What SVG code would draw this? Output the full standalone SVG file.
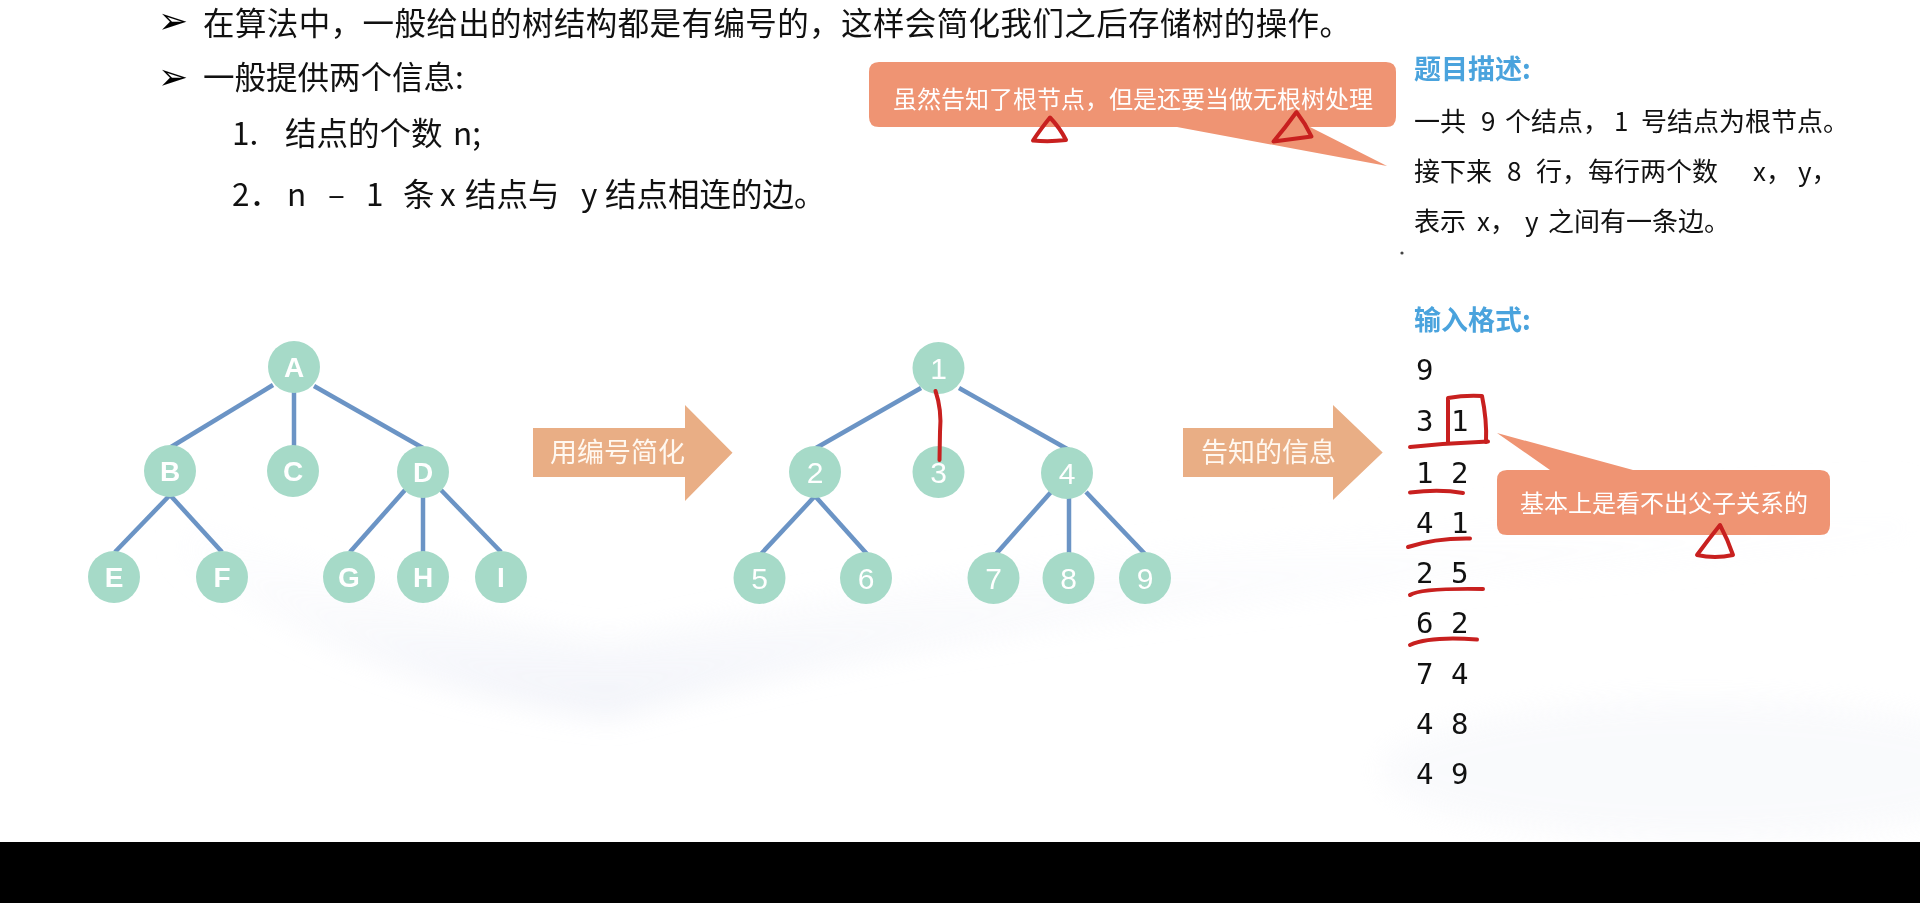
<svg xmlns="http://www.w3.org/2000/svg" width="1920" height="903" viewBox="0 0 1920 903">
<defs>
<style>
.txt{font-family:"Microsoft YaHei","Noto Sans CJK SC","Noto Sans",sans-serif;fill:#111}
.main{font-size:31.5px}
.side{font-size:26px}
.head{font-size:27px;font-weight:bold;fill:#4aa3dd}
.mono{font-family:"DejaVu Sans Mono","Liberation Mono",monospace;font-size:29px;fill:#111}
.bullet{font-family:"DejaVu Sans",sans-serif;font-size:36px;fill:#000}
.node circle{fill:#a6dac8}
.lbl{font-family:"Liberation Sans","Noto Sans",sans-serif;font-size:28px;font-weight:bold;fill:#fff;text-anchor:middle}
.num{font-family:"Liberation Sans","Noto Sans",sans-serif;font-size:30px;fill:#fff;text-anchor:middle}
.edge{stroke:#6b94c5;stroke-width:4.5;stroke-linecap:butt;fill:none}
.red{stroke:#c8201f;stroke-width:4;fill:none;stroke-linecap:round;stroke-linejoin:round}
.callout{fill:#ef9473}
.ctext{font-family:"Noto Sans CJK SC","Noto Sans",sans-serif;font-size:24px;fill:#fff}
.arrow{fill:#e9ae85}
.atext{font-family:"Noto Sans CJK SC","Noto Sans",sans-serif;font-size:27px;fill:#fff8f0}
</style>
<linearGradient id="sw" x1="0" y1="1" x2="0" y2="0">
<stop offset="0" stop-color="#e6e9f4" stop-opacity="0.8"/>
<stop offset="1" stop-color="#ffffff" stop-opacity="0"/>
</linearGradient>
<filter id="bl" x="-20%" y="-50%" width="140%" height="200%"><feGaussianBlur stdDeviation="14"/></filter>
</defs>
<rect x="0" y="0" width="1920" height="903" fill="#ffffff"/>
<g id="background" opacity="0.7">
<path d="M 180 560 Q 360 690 612 718 Q 860 650 1180 612 Q 1500 575 1920 545 L 1920 470 Q 1500 505 1180 545 Q 860 585 612 640 Q 400 610 180 500 Z" fill="url(#sw)" filter="url(#bl)"/>
<ellipse cx="1700" cy="770" rx="320" ry="70" fill="#eff1f7" filter="url(#bl)" opacity="0.5"/>
</g>
<rect x="0" y="842" width="1920" height="61" fill="#000"/>

<g id="intro">
<text class="bullet" x="158" y="33">➢</text>
<text class="txt main" x="203" y="35" letter-spacing="0.4">在算法中，一般给出的树结构都是有编号的，这样会简化我们之后存储树的操作。</text>
<text class="bullet" x="158" y="89">➢</text>
<text class="txt main" x="203" y="89">一般提供两个信息:</text>
<text class="txt main" y="145"><tspan x="232">1.</tspan><tspan x="285">结点的个数</tspan><tspan x="453">n;</tspan></text>
<text class="txt main" y="206"><tspan x="232">2．</tspan><tspan x="287">n</tspan><tspan x="328">–</tspan><tspan x="366">1</tspan><tspan x="403">条</tspan><tspan x="440">x</tspan><tspan x="465">结点与</tspan><tspan x="581">y</tspan><tspan x="605">结点相连的边。</tspan></text>
</g>

<g id="callout-root">
<path class="callout" d="M879,62 H1386 Q1396,62 1396,72 V117 Q1396,127 1386,127 H1310 L1387,166 L1177,127 H879 Q869,127 869,117 V72 Q869,62 879,62 Z"/>
<text class="ctext" x="893" y="108">虽然告知了根节点，但是还要当做无根树处理</text>
</g>

<g id="desc">
<text class="txt head" x="1414" y="79">题目描述:</text>
<text class="txt side" y="131"><tspan x="1414">一共</tspan><tspan x="1481">9</tspan><tspan x="1505">个结点，</tspan><tspan x="1614">1</tspan><tspan x="1641">号结点为根节点。</tspan></text>
<text class="txt side" y="181"><tspan x="1414">接下来</tspan><tspan x="1507">8</tspan><tspan x="1536">行，每行两个数</tspan><tspan x="1753">x，</tspan><tspan x="1798">y，</tspan></text>
<text class="txt side" y="231"><tspan x="1414">表示</tspan><tspan x="1477">x，</tspan><tspan x="1525">y</tspan><tspan x="1548">之间有一条边。</tspan></text>
<circle cx="1402" cy="253" r="1.6" fill="#444"/>
</g>

<g id="input">
<text class="txt head" x="1414" y="330">输入格式:</text>
<text class="mono" x="1416" y="380">9</text>
<text class="mono" x="1416" y="431" xml:space="preserve">3 1</text>
<text class="mono" x="1416" y="483" xml:space="preserve">1 2</text>
<text class="mono" x="1416" y="533" xml:space="preserve">4 1</text>
<text class="mono" x="1416" y="583" xml:space="preserve">2 5</text>
<text class="mono" x="1416" y="633" xml:space="preserve">6 2</text>
<text class="mono" x="1416" y="684" xml:space="preserve">7 4</text>
<text class="mono" x="1416" y="734" xml:space="preserve">4 8</text>
<text class="mono" x="1416" y="784" xml:space="preserve">4 9</text>
</g>

<g id="callout-parent">
<path class="callout" d="M1507,470 H1550 L1497,433 L1633,470 H1820 Q1830,470 1830,480 V525 Q1830,535 1820,535 H1507 Q1497,535 1497,525 V480 Q1497,470 1507,470 Z"/>
<text class="ctext" x="1520" y="512">基本上是看不出父子关系的</text>
</g>

<g id="arrow-simplify">
<polygon class="arrow" points="533,428 685,428 685,405 732.5,452.7 685,501 685,477 533,477"/>
<text class="atext" x="550" y="462">用编号简化</text>
</g>
<g id="arrow-info">
<polygon class="arrow" points="1183,428 1333,428 1333,405 1382.7,452.5 1333,500 1333,477 1183,477"/>
<text class="atext" x="1201" y="462">告知的信息</text>
</g>

<g id="connectors">
<line class="edge" x1="273" y1="385" x2="171" y2="447"/>
<line class="edge" x1="294" y1="390" x2="294" y2="446"/>
<line class="edge" x1="314" y1="386" x2="423" y2="448"/>
<line class="edge" x1="170" y1="495" x2="115" y2="552"/>
<line class="edge" x1="170" y1="495" x2="222" y2="552"/>
<line class="edge" x1="405" y1="490" x2="350" y2="552"/>
<line class="edge" x1="423" y1="495" x2="423" y2="552"/>
<line class="edge" x1="441" y1="490" x2="501" y2="552"/>
<line class="edge" x1="921" y1="388" x2="816" y2="448"/>
<line class="edge" x1="959" y1="388" x2="1069" y2="450"/>
<line class="edge" x1="815" y1="496" x2="761" y2="554"/>
<line class="edge" x1="815" y1="496" x2="867" y2="554"/>
<line class="edge" x1="1051" y1="492" x2="996" y2="554"/>
<line class="edge" x1="1069" y1="498" x2="1069" y2="554"/>
<line class="edge" x1="1086" y1="492" x2="1145" y2="554"/>
</g>

<g id="node-A" class="node"><circle cx="294" cy="367" r="26"/><text class="lbl" x="294" y="377">A</text></g>
<g id="node-B" class="node"><circle cx="170" cy="471" r="26"/><text class="lbl" x="170" y="481">B</text></g>
<g id="node-C" class="node"><circle cx="293" cy="471" r="26"/><text class="lbl" x="293" y="481">C</text></g>
<g id="node-D" class="node"><circle cx="423" cy="472" r="26"/><text class="lbl" x="423" y="482">D</text></g>
<g id="node-E" class="node"><circle cx="114" cy="577" r="26"/><text class="lbl" x="114" y="587">E</text></g>
<g id="node-F" class="node"><circle cx="222" cy="577" r="26"/><text class="lbl" x="222" y="587">F</text></g>
<g id="node-G" class="node"><circle cx="349" cy="577" r="26"/><text class="lbl" x="349" y="587">G</text></g>
<g id="node-H" class="node"><circle cx="423" cy="577" r="26"/><text class="lbl" x="423" y="587">H</text></g>
<g id="node-I" class="node"><circle cx="501" cy="577" r="26"/><text class="lbl" x="501" y="587">I</text></g>

<g id="node-1" class="node"><circle cx="938.5" cy="368" r="26"/><text class="num" x="938.5" y="379">1</text></g>
<g id="node-2" class="node"><circle cx="815" cy="472" r="26"/><text class="num" x="815" y="483">2</text></g>
<g id="node-3" class="node"><circle cx="938.5" cy="472" r="26"/><text class="num" x="938.5" y="483">3</text></g>
<g id="node-4" class="node"><circle cx="1067" cy="473" r="26"/><text class="num" x="1067" y="484">4</text></g>
<g id="node-5" class="node"><circle cx="759.5" cy="578" r="26"/><text class="num" x="759.5" y="589">5</text></g>
<g id="node-6" class="node"><circle cx="866" cy="578" r="26"/><text class="num" x="866" y="589">6</text></g>
<g id="node-7" class="node"><circle cx="993.5" cy="578" r="26"/><text class="num" x="993.5" y="589">7</text></g>
<g id="node-8" class="node"><circle cx="1068.5" cy="578" r="26"/><text class="num" x="1068.5" y="589">8</text></g>
<g id="node-9" class="node"><circle cx="1145" cy="578" r="26"/><text class="num" x="1145" y="589">9</text></g>

<g id="annotations">
<path class="red" d="M935.5,391 Q942,410 940,432 L939.5,460"/>
<path class="red" d="M1050,117.5 Q1040,130 1033,140.5 Q1050,142 1066,140 Q1060,128 1050,117.5 Z"/>
<path class="red" d="M1296.5,112 Q1285,128 1273.5,141.5 Q1293,139 1311.5,136.5 Q1305,123 1296.5,112 Z"/>
<path class="red" d="M1448,443 L1448,398 Q1465,395 1482,396 Q1487,420 1486,442"/>
<path class="red" d="M1410,447 Q1450,443 1488,441.5"/>
<path class="red" d="M1410,492.5 Q1440,489 1463,493"/>
<path class="red" d="M1408,547 Q1435,538 1470,538.5"/>
<path class="red" d="M1410,595 Q1420,588 1483,589"/>
<path class="red" d="M1410,645 Q1430,636 1477,639.5"/>
<path class="red" d="M1720,525 Q1708,540 1697,555 Q1715,559 1733,555 Q1728,540 1720,525 Z"/>
</g>
</svg>
